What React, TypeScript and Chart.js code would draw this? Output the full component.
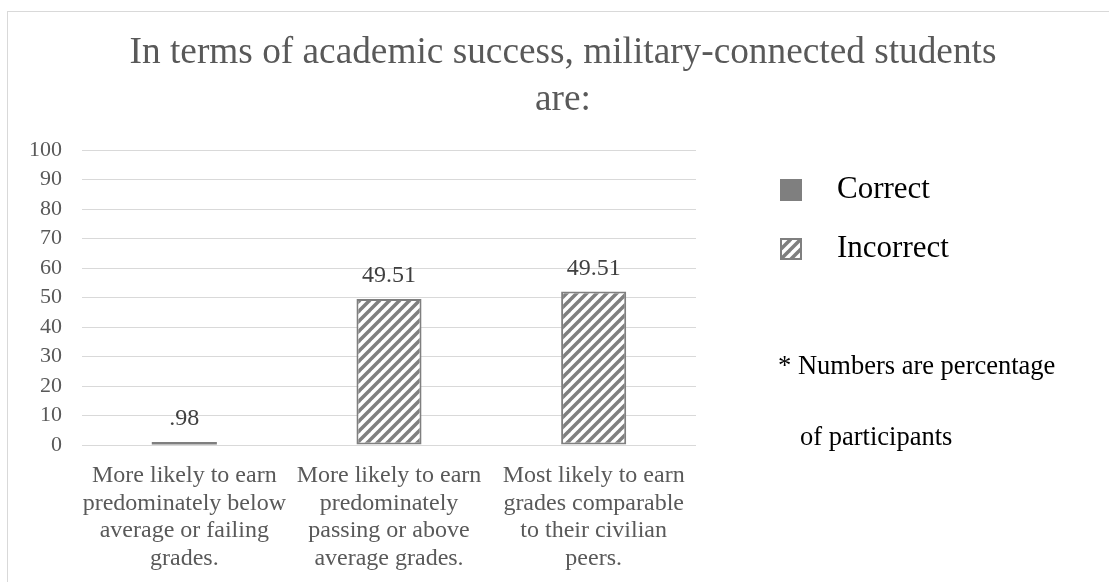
import React, { useEffect, useRef } from 'react';
import { Chart, registerables } from 'chart.js';

Chart.register(...registerables);

const SERIF = "'Liberation Serif', 'Times New Roman', serif";

const titleLines = ['In terms of academic success, military-connected students', 'are:'];
const categories = [
  ['More likely to earn', 'predominately below', 'average or failing', 'grades.'],
  ['More likely to earn', 'predominately', 'passing or above', 'average grades.'],
  ['Most likely to earn', 'grades comparable', 'to their civilian', 'peers.'],
];
const seriesNames = ['Correct', 'Incorrect'];
const correctValues = [0.98, null, null];
const incorrectValues = [null, 49.51, 52];
const valueLabels = ['.98', '49.51', '49.51'];
const yMin = 0;
const yMax = 100;
const yStep = 10;
const noteLines = ['* Numbers are percentage', 'of participants'];

const GRAY = '#7f7f7f';
const TEXT_GRAY = '#595959';

function makeHatch(): CanvasPattern | string {
  const size = 10;
  const c = document.createElement('canvas');
  c.width = size;
  c.height = size;
  const g = c.getContext('2d');
  if (!g) return GRAY;
  g.fillStyle = '#ffffff';
  g.fillRect(0, 0, size, size);
  g.strokeStyle = GRAY;
  g.lineWidth = 3.5;
  for (const off of [-size, 0, size]) {
    g.beginPath();
    g.moveTo(off - 1, size + 1);
    g.lineTo(off + size + 1, -1);
    g.stroke();
  }
  const p = g.createPattern(c, 'repeat');
  return p || GRAY;
}

export default function App() {
  const ref = useRef<HTMLCanvasElement | null>(null);

  useEffect(() => {
    const canvas = ref.current;
    if (!canvas) return;
    const hatch = makeHatch();

    const framePlugin = {
      id: 'frame',
      beforeDraw(chart: any) {
        const ctx = chart.ctx;
        ctx.save();
        ctx.fillStyle = '#ffffff';
        ctx.fillRect(0, 0, chart.width, chart.height);
        ctx.strokeStyle = '#d9d9d9';
        ctx.lineWidth = 1;
        ctx.strokeRect(7.5, 11.5, 1300, 800);
        ctx.restore();
      },
    };

    const valueLabelPlugin = {
      id: 'valueLabels',
      afterDatasetsDraw(chart: any) {
        const ctx = chart.ctx;
        ctx.save();
        ctx.font = `24px ${SERIF}`;
        ctx.fillStyle = '#404040';
        ctx.textAlign = 'center';
        ctx.textBaseline = 'middle';
        chart.data.datasets.forEach((ds: any, i: number) => {
          const meta = chart.getDatasetMeta(i);
          meta.data.forEach((bar: any, j: number) => {
            if (ds.data[j] == null) return;
            ctx.fillText(valueLabels[j], bar.x, bar.y - 23);
          });
        });
        ctx.restore();
      },
    };

    const sideLegendPlugin = {
      id: 'sideLegend',
      afterDraw(chart: any) {
        const ctx = chart.ctx;
        const area = chart.chartArea;
        const boxX = area.right + 84;
        const textX = boxX + 57;
        const box = 22;
        ctx.save();
        chart.data.datasets.forEach((ds: any, i: number) => {
          const cy = area.top + 40 + i * 59;
          ctx.fillStyle = ds.backgroundColor;
          ctx.fillRect(boxX, cy - box / 2, box, box);
          if (ds.borderWidth) {
            ctx.strokeStyle = ds.borderColor;
            ctx.lineWidth = 2;
            ctx.strokeRect(boxX + 1, cy - box / 2 + 1, box - 2, box - 2);
          }
          ctx.fillStyle = '#000000';
          ctx.font = `31px ${SERIF}`;
          ctx.textAlign = 'left';
          ctx.textBaseline = 'middle';
          ctx.fillText(ds.label, textX, cy);
        });
        ctx.font = `26.5px ${SERIF}`;
        ctx.fillStyle = '#000000';
        ctx.textBaseline = 'middle';
        ctx.fillText(noteLines[0], boxX - 2, area.top + 217);
        ctx.fillText(noteLines[1], boxX + 20, area.top + 288);
        ctx.restore();
      },
    };

    const chart = new Chart(canvas, {
      type: 'bar',
      data: {
        labels: categories,
        datasets: [
          {
            label: seriesNames[0],
            data: correctValues,
            backgroundColor: GRAY,
            borderWidth: 0,
          },
          {
            label: seriesNames[1],
            data: incorrectValues,
            backgroundColor: hatch as any,
            borderColor: GRAY,
            borderWidth: 2,
            borderSkipped: false,
          },
        ],
      },
      options: {
        responsive: false,
        animation: false,
        events: [],
        datasets: {
          bar: {
            barPercentage: 0.318,
            categoryPercentage: 1,
          },
        },
        layout: { padding: { left: 17, right: 0, top: 0, bottom: 0 } },
        plugins: {
          legend: { display: false },
          tooltip: { enabled: false },
          title: {
            display: true,
            text: titleLines,
            color: TEXT_GRAY,
            font: { family: SERIF, size: 37.3, weight: 'normal', lineHeight: 47 / 37.3 },
            padding: { top: 29.5, bottom: 26.5 },
          },
        },
        scales: {
          x: {
            stacked: true,
            grid: { display: false, drawTicks: false },
            border: { display: false },
            ticks: {
              color: TEXT_GRAY,
              font: { family: SERIF, size: 24, lineHeight: 27.5 / 24 },
              padding: 17,
              maxRotation: 0,
              minRotation: 0,
              autoSkip: false,
            },
            afterFit(scale: any) {
              scale.height = 137;
            },
          },
          y: {
            stacked: true,
            min: yMin,
            max: yMax,
            grid: { color: '#d9d9d9', lineWidth: 1, drawTicks: false },
            border: { display: false },
            ticks: {
              stepSize: yStep,
              color: TEXT_GRAY,
              font: { family: SERIF, size: 22 },
              padding: 20,
            },
            afterFit(scale: any) {
              scale.width = 65;
            },
          },
          yR: {
            type: 'linear',
            position: 'right',
            display: true,
            grid: { display: false, drawTicks: false },
            border: { display: false },
            ticks: { display: false },
            afterFit(scale: any) {
              scale.width = 413;
            },
          },
        },
      } as any,
      plugins: [framePlugin, valueLabelPlugin, sideLegendPlugin],
    });

    return () => chart.destroy();
  }, []);

  return (
    <div style={{ position: 'absolute', left: 0, top: 0, width: '1109px', height: '582px' }}>
      <canvas ref={ref} width={1109} height={582} style={{ display: 'block' }} />
    </div>
  );
}
